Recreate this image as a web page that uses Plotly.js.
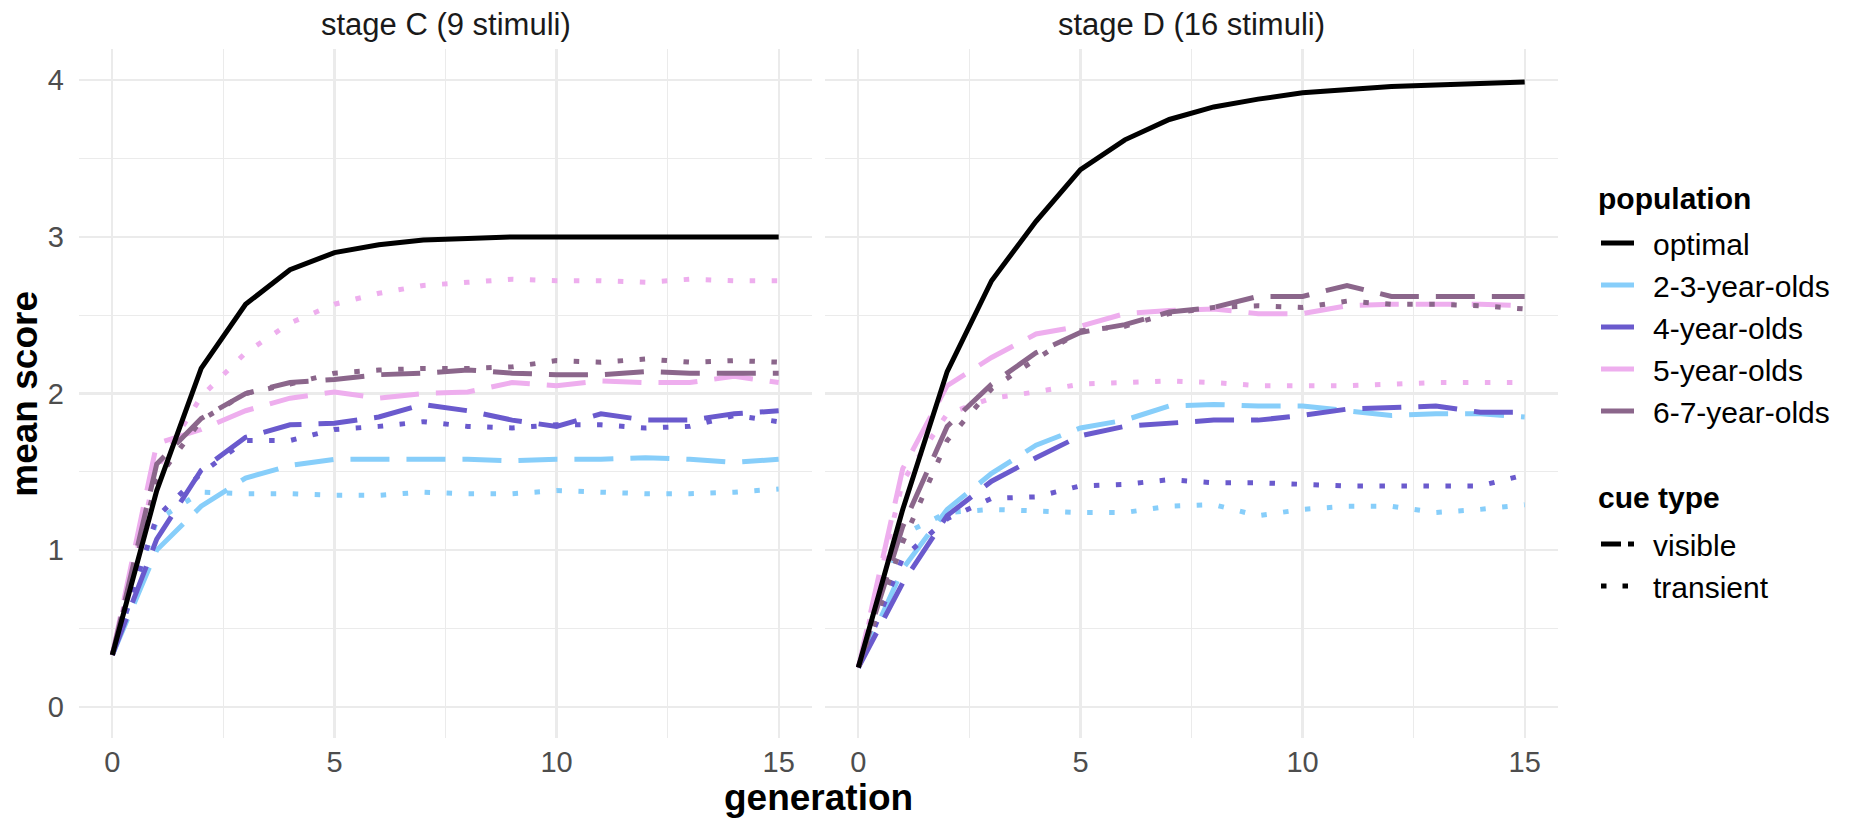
<!DOCTYPE html>
<html>
<head>
<meta charset="utf-8">
<script src="https://cdn.plot.ly/plotly-3.0.1.min.js"></script>
<style>html,body{margin:0;padding:0;background:#fff;}#chart{width:1854px;height:822px;}</style>
</head>
<body>
<div id="chart"></div>
<script>
// ---- data ----
const generation = [0,1,2,3,4,5,6,7,8,9,10,11,12,13,14,15];
const populations = ["2-3-year-olds","4-year-olds","5-year-olds","6-7-year-olds"];
const cueTypes = ["visible","transient"];
const panelTitles = ["stage C (9 stimuli)","stage D (16 stimuli)"];
const xTickVals = [0,5,10,15];
const yTickVals = [0,1,2,3,4];

// stage C
const optimalC  = [0.33,1.38,2.16,2.57,2.79,2.90,2.95,2.98,2.99,3.00,3.00,3.00,3.00,3.00,3.00,3.00];
const C_23_vis  = [0.33,1.00,1.28,1.46,1.54,1.58,1.58,1.58,1.58,1.57,1.58,1.58,1.59,1.58,1.56,1.58];
const C_23_tra  = [0.33,1.19,1.37,1.36,1.36,1.35,1.35,1.37,1.36,1.36,1.38,1.37,1.36,1.36,1.37,1.39];
const C_4_vis   = [0.33,1.07,1.51,1.72,1.80,1.81,1.85,1.93,1.89,1.83,1.79,1.87,1.83,1.83,1.87,1.89];
const C_4_tra   = [0.33,1.21,1.49,1.70,1.70,1.77,1.79,1.82,1.79,1.78,1.80,1.80,1.78,1.79,1.86,1.82];
const C_5_vis   = [0.33,1.68,1.77,1.89,1.97,2.01,1.97,2.00,2.01,2.07,2.05,2.08,2.07,2.07,2.11,2.07];
const C_5_tra   = [0.33,1.52,1.98,2.26,2.45,2.57,2.64,2.69,2.71,2.73,2.72,2.72,2.71,2.73,2.72,2.72];
const C_67_vis  = [0.33,1.55,1.84,2.00,2.07,2.09,2.12,2.13,2.15,2.13,2.12,2.12,2.14,2.13,2.13,2.13];
const C_67_tra  = [0.33,1.45,1.83,2.00,2.06,2.13,2.15,2.16,2.16,2.17,2.21,2.20,2.22,2.20,2.21,2.20];

// stage D
const optimalD  = [0.25,1.26,2.14,2.72,3.10,3.43,3.62,3.75,3.83,3.88,3.92,3.94,3.96,3.97,3.98,3.99];
const D_23_vis  = [0.25,0.88,1.26,1.49,1.67,1.78,1.83,1.92,1.93,1.92,1.92,1.89,1.86,1.87,1.87,1.85];
const D_23_tra  = [0.25,1.10,1.24,1.26,1.25,1.24,1.24,1.28,1.29,1.22,1.26,1.28,1.28,1.24,1.26,1.29];
const D_4_vis   = [0.25,0.79,1.22,1.44,1.59,1.73,1.79,1.81,1.83,1.83,1.86,1.90,1.91,1.92,1.88,1.88];
const D_4_tra   = [0.25,0.95,1.20,1.33,1.34,1.41,1.42,1.45,1.43,1.43,1.42,1.41,1.41,1.41,1.41,1.48];
const D_5_vis   = [0.25,1.52,2.05,2.23,2.38,2.43,2.51,2.53,2.54,2.51,2.51,2.56,2.57,2.57,2.57,2.56];
const D_5_tra   = [0.25,1.44,1.87,1.97,2.01,2.06,2.07,2.08,2.07,2.05,2.05,2.05,2.06,2.07,2.07,2.07];
const D_67_vis  = [0.25,1.15,1.79,2.06,2.26,2.39,2.44,2.52,2.55,2.62,2.62,2.69,2.62,2.62,2.62,2.62];
const D_67_tra  = [0.25,1.05,1.70,2.03,2.22,2.40,2.43,2.51,2.55,2.56,2.55,2.59,2.57,2.57,2.56,2.54];

// ---- styles ----
const popColors = {"2-3-year-olds":"#87CEFA","4-year-olds":"#6A5ACD","5-year-olds":"#EEAEEE","6-7-year-olds":"#8B668B"};
const cueDash = {visible:"39px,17px", transient:"5.5px,16.5px"};
// legend key patterns (key drawn 33px long, then blank before label)
const keySolid = "33px,200px";
const cueKeyDash = {visible:"20px,7px,6px,200px", transient:"5.5px,16px,5.5px,200px"};
const LW = 5;
const FONT = "Liberation Sans, Arial, sans-serif";

const seriesC = {"2-3-year-olds":{visible:C_23_vis,transient:C_23_tra},"4-year-olds":{visible:C_4_vis,transient:C_4_tra},"5-year-olds":{visible:C_5_vis,transient:C_5_tra},"6-7-year-olds":{visible:C_67_vis,transient:C_67_tra}};
const seriesD = {"2-3-year-olds":{visible:D_23_vis,transient:D_23_tra},"4-year-olds":{visible:D_4_vis,transient:D_4_tra},"5-year-olds":{visible:D_5_vis,transient:D_5_tra},"6-7-year-olds":{visible:D_67_vis,transient:D_67_tra}};

const traces = [];
[[seriesC,'x'],[seriesD,'x2']].forEach(([ser,xa]) => {
  populations.forEach(p => {
    cueTypes.forEach(c => {
      traces.push({type:'scatter',mode:'lines',x:generation,y:ser[p][c],xaxis:xa,yaxis:'y',
        line:{color:popColors[p],width:LW,dash:cueDash[c]},showlegend:false,hoverinfo:'skip'});
    });
  });
});
traces.push({type:'scatter',mode:'lines',x:generation,y:optimalC,xaxis:'x',yaxis:'y',line:{color:'#000',width:LW},showlegend:false});
traces.push({type:'scatter',mode:'lines',x:generation,y:optimalD,xaxis:'x2',yaxis:'y',line:{color:'#000',width:LW},showlegend:false});

// legend entries (no data)
traces.push({type:'scatter',mode:'lines',x:[null],y:[null],name:'optimal',line:{color:'#000',width:LW,dash:keySolid},legend:'legend'});
populations.forEach(p => traces.push({type:'scatter',mode:'lines',x:[null],y:[null],name:p,line:{color:popColors[p],width:LW,dash:keySolid},legend:'legend'}));
cueTypes.forEach(c => traces.push({type:'scatter',mode:'lines',x:[null],y:[null],name:c,line:{color:'#000',width:LW,dash:cueKeyDash[c]},legend:'legend2'}));

const gridCol = '#EBEBEB';
function xax(domain){
  return {domain:domain,range:[-0.75,15.75],tickvals:xTickVals,ticktext:xTickVals.map(String),showgrid:true,gridcolor:gridCol,gridwidth:2.2,
    zeroline:false,showline:false,ticks:'',tickfont:{family:FONT,size:29,color:'#4D4D4D'},ticklabelstandoff:4,
    minor:{tick0:2.5,dtick:5,showgrid:true,gridcolor:gridCol,gridwidth:1.1},anchor:'y',fixedrange:true};
}
const legFont = {family:FONT,size:30,color:'#000'};
const layout = {
  width:1854,height:822,margin:{l:0,r:0,t:0,b:0},paper_bgcolor:'#fff',plot_bgcolor:'#fff',
  font:{family:FONT},
  xaxis:xax([79/1854,812/1854]),
  xaxis2:xax([825/1854,1558/1854]),
  yaxis:{domain:[1-738/822,1-49/822],range:[-0.2,4.2],tickvals:yTickVals,showgrid:true,gridcolor:gridCol,gridwidth:2.2,
    zeroline:false,showline:false,ticks:'',tickfont:{family:FONT,size:29,color:'#4D4D4D'},ticklabelstandoff:14,
    minor:{tick0:0.5,dtick:1,showgrid:true,gridcolor:gridCol,gridwidth:1.1},anchor:'x',fixedrange:true},
  showlegend:true,
  legend:{x:1596/1854,y:1-217/822,xanchor:'left',yanchor:'top',bgcolor:'rgba(0,0,0,0)',itemwidth:47,
    font:legFont,tracegroupgap:0},
  legend2:{x:1596/1854,y:1-518/822,xanchor:'left',yanchor:'top',bgcolor:'rgba(0,0,0,0)',itemwidth:47,
    font:legFont,tracegroupgap:0},
  annotations:[
    {text:panelTitles[0],xref:'paper',yref:'paper',x:(79+812)/2/1854,y:1-24.3/822,xanchor:'center',yanchor:'middle',showarrow:false,font:{family:FONT,size:31,color:'#1A1A1A'}},
    {text:panelTitles[1],xref:'paper',yref:'paper',x:(825+1558)/2/1854,y:1-24.3/822,xanchor:'center',yanchor:'middle',showarrow:false,font:{family:FONT,size:31,color:'#1A1A1A'}},
    {text:'<b>generation</b>',xref:'paper',yref:'paper',x:818.5/1854,y:1-797/822,xanchor:'center',yanchor:'middle',showarrow:false,font:{family:FONT,size:37,color:'#000'}},
    {text:'<b>mean score</b>',xref:'paper',yref:'paper',x:24.2/1854,y:1-393.5/822,xanchor:'center',yanchor:'middle',textangle:-90,showarrow:false,font:{family:FONT,size:37,color:'#000'}},
    {text:'<b>population</b>',xref:'paper',yref:'paper',x:1596/1854,y:1-198/822,xanchor:'left',yanchor:'middle',showarrow:false,font:{family:FONT,size:30,color:'#000'}},
    {text:'<b>cue type</b>',xref:'paper',yref:'paper',x:1596/1854,y:1-497/822,xanchor:'left',yanchor:'middle',showarrow:false,font:{family:FONT,size:30,color:'#000'}}
  ]
};
Plotly.newPlot('chart',traces,layout,{staticPlot:true,displayModeBar:false});
</script>
</body>
</html>
